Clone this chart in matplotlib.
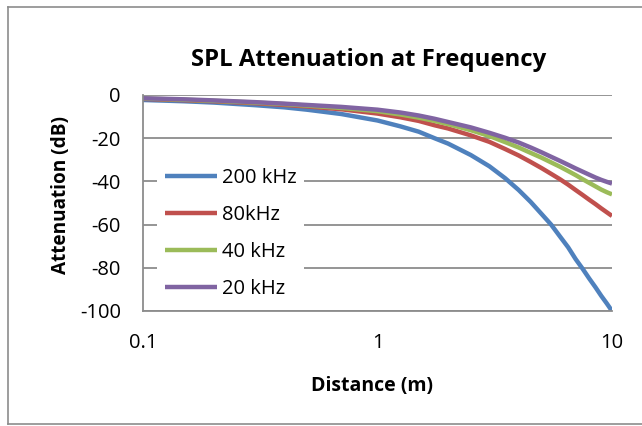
import matplotlib
matplotlib.use('Agg')
import matplotlib.pyplot as plt
from matplotlib.lines import Line2D

# distances (m) and attenuation (dB)
distance = [0.1, 0.15, 0.2, 0.3, 0.4, 0.5, 0.7, 1, 1.25, 1.5, 1.75, 2, 2.5, 3, 3.5,
            4, 4.5, 5, 5.5, 6, 6.5, 7, 7.5, 8, 8.5, 9, 9.5, 10]
att_200k = [-2.3, -2.9, -3.5, -4.7, -5.7, -6.8, -8.8, -11.8, -14.5, -17, -20, -22.5, -27.8, -33, -38.5,
            -44, -49.5, -55, -60, -65.5, -70.5, -76, -80.5, -85, -89, -93, -96.5, -100]
att_80k = [-1.8, -2.4, -2.9, -3.8, -4.6, -5.3, -6.6, -8.6, -10.3, -12, -14, -15.5, -18.7, -21.7, -25,
           -28, -31, -33.8, -36.5, -39, -41.5, -44, -46.3, -48.5, -50.5, -52.5, -54.3, -56]
att_40k = [-1.6, -2.2, -2.7, -3.5, -4.2, -4.9, -6, -7.5, -9, -10.5, -12, -13.5, -16.3, -19, -21.8,
           -24.3, -26.8, -29, -31.2, -33.2, -35.2, -37.1, -39, -40.7, -42.3, -43.8, -45, -46]
att_20k = [-1.5, -2, -2.5, -3.3, -4, -4.6, -5.5, -6.8, -8.1, -9.5, -11, -12.5, -15, -17.5, -19.8,
           -22, -24.3, -26.5, -28.6, -30.5, -32.3, -34, -35.5, -36.9, -38.2, -39.3, -40.2, -41]

series = [('200 kHz', att_200k, '#4F81BD'),
          ('80kHz', att_80k, '#C0504D'),
          ('40 kHz', att_40k, '#9BBB59'),
          ('20 kHz', att_20k, '#8064A2')]

plt.rcParams['font.family'] = ['Open Sans', 'DejaVu Sans']
plt.rcParams['axes.unicode_minus'] = False

W, H = 642, 426
fig = plt.figure(figsize=(W / 100, H / 100), dpi=100)
ax = fig.add_axes([143 / W, 1 - 311 / H, (612 - 143) / W, (311 - 95) / H])

for label, vals, color in series:
    ax.plot(distance, vals, color=color, lw=3.2, label=label, solid_capstyle='butt')

ax.set_xscale('log')
ax.set_xlim(0.1, 10)
ax.set_ylim(-100, 0)
ax.set_xticks([0.1, 1, 10])
ax.set_xticklabels(['0.1', '1', '10'])
ax.xaxis.set_minor_locator(matplotlib.ticker.NullLocator())
ax.set_yticks(range(-100, 1, 20))
ax.tick_params(length=0, labelsize=14.5, colors='black')
ax.tick_params(axis='x', pad=16)
ax.tick_params(axis='y', pad=16)
ax.yaxis.grid(True, color='#8C8C8C', lw=1.3)
ax.set_axisbelow(True)
for s in ['top', 'right']:
    ax.spines[s].set_visible(False)
for s in ['left', 'bottom']:
    ax.spines[s].set_color('#8C8C8C')
    ax.spines[s].set_linewidth(1.3)

fig.text(372 / W, 1 - 386 / H, 'Distance (m)', fontsize=14, fontweight='bold',
         ha='center', va='center')
fig.text(61 / W, 1 - 195 / H, 'Attenuation (dB)', fontsize=13.7, fontweight='bold',
         ha='center', va='center', rotation=90)
fig.text(369 / W, 1 - 60 / H, 'SPL Attenuation at Frequency', fontsize=17.2,
         fontweight='bold', ha='center', va='center')

leg = ax.legend(loc='center left', bbox_to_anchor=(0.03, 0.36), frameon=True,
                fontsize=14.5, handlelength=2.6, handletextpad=0.2, labelspacing=0.85,
                borderpad=0.4, borderaxespad=0, fancybox=False)
leg.get_frame().set_facecolor('white')
leg.get_frame().set_edgecolor('none')
leg.get_frame().set_alpha(1)

# outer chart border
bc = '#8C8C8C'
fig.add_artist(Line2D([8 / W, 8 / W], [1 - 424 / H, 1 - 7 / H], color=bc, lw=1.2))
fig.add_artist(Line2D([8 / W, 1], [1 - 7 / H, 1 - 7 / H], color=bc, lw=1.2))
fig.add_artist(Line2D([8 / W, 1], [1 - 424 / H, 1 - 424 / H], color=bc, lw=1.2))

fig.savefig('out.png', dpi=100)
